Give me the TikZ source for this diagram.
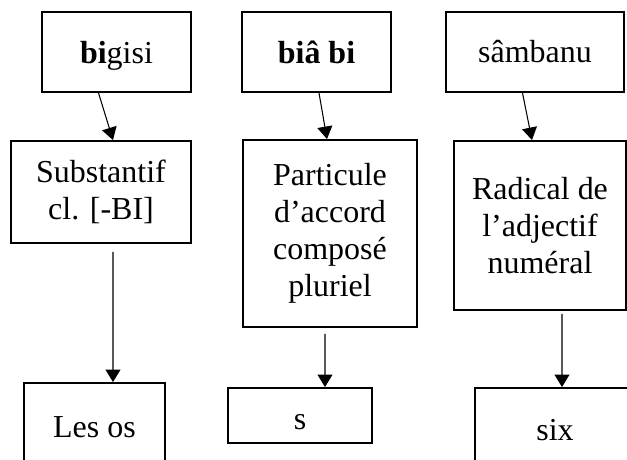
\documentclass[tikz,border=0pt]{standalone}
\usepackage{fontspec}
\setmainfont{Liberation Serif}
\usepackage{tikz}
\usetikzlibrary{arrows.meta}

\begin{document}
\begin{tikzpicture}[x=0.02cm,y=-0.02cm,
    every node/.style={font=\fontsize{18.2pt}{21pt}\selectfont},
    wordbox/.style={draw,rectangle,line width=1.1pt,align=center,inner sep=0pt},
    arr/.style={-{Triangle[length=0.25cm,width=0.3cm]},line width=0.6pt}]
  \useasboundingbox (0,0) rectangle (627,460);
  \clip (0,0) rectangle (627,460);
  % ---- top row: the forms ----
  \node[wordbox,minimum width=2.98cm,minimum height=1.6cm,text depth=0pt] (bigisi) at (116.5,52) {\textbf{bi}gisi};
  \node[wordbox,minimum width=2.98cm,minimum height=1.6cm] (biabi)   at (316.5,52) {\textbf{biâ bi}};
  \node[wordbox,minimum width=3.56cm,minimum height=1.6cm] (sambanu) at (535,52)   {sâmbanu};
  % ---- middle row: the analyses ----
  \node[wordbox,minimum width=3.6cm,minimum height=2.04cm]  (subst)   at (101,192)   {Substantif\\cl. [-BI]};
  \node[wordbox,minimum width=3.48cm,minimum height=3.74cm] (partic)  at (330,233.5) {Particule\\d’accord\\composé\\pluriel};
  \node[wordbox,minimum width=3.44cm,minimum height=3.38cm] (radical) at (540,225.5) {Radical de\\l’adjectif\\numéral};
  % ---- bottom row: the glosses (cut off by the page) ----
  \node[wordbox,minimum width=2.82cm,minimum height=1.76cm] (lesos) at (94.5,427) {Les os};
  \node[wordbox,minimum width=2.88cm,minimum height=1.1cm,text height=0.55cm] (plurs) at (300,415.5) {s};
  \node[wordbox,minimum width=3.2cm,minimum height=1.68cm]  (six)   at (555,430)   {six};
  % arrows
  \draw[arr] ([xshift=-0.36cm]bigisi.south) -- ([xshift=0.24cm]subst.north);
  \draw[arr] ([xshift=0.05cm]biabi.south) -- ([xshift=-0.06cm]partic.north);
  \draw[arr] ([xshift=-0.25cm]sambanu.south) -- ([xshift=-0.16cm]radical.north);
  \draw[arr] ([xshift=0.24cm,yshift=-0.16cm]subst.south) -- ([xshift=0.37cm]lesos.north);
  \draw[arr] ([xshift=-0.1cm,yshift=-0.12cm]partic.south) -- ([xshift=0.5cm]plurs.north);
  \draw[arr] ([xshift=0.44cm,yshift=-0.06cm]radical.south) -- ([xshift=0.14cm]six.north);
\end{tikzpicture}
\end{document}
